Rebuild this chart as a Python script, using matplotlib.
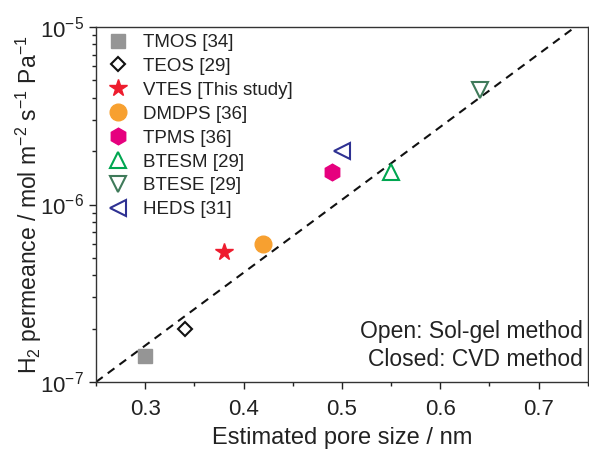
import matplotlib
matplotlib.use("Agg")
import matplotlib.pyplot as plt
from matplotlib.ticker import FixedLocator, FixedFormatter
import numpy as np

plt.rcParams['font.family'] = ['Liberation Sans', 'DejaVu Sans']
plt.rcParams['mathtext.fontset'] = 'custom'
plt.rcParams['mathtext.rm'] = 'Liberation Sans'
plt.rcParams['mathtext.it'] = 'Liberation Sans'

labels = ["TMOS [34]", "TEOS [29]", "VTES [This study]", "DMDPS [36]",
          "TPMS [36]", "BTESM [29]", "BTESE [29]", "HEDS [31]"]
pore_size = [0.30, 0.34, 0.38, 0.42, 0.49, 0.55, 0.64, 0.50]
permeance = [1.4e-7, 2.0e-7, 5.4e-7, 6.0e-7, 1.52e-6, 1.53e-6, 4.4e-6, 2.0e-6]
markers = ['s', 'D', '*', 'o', 'h', '^', 'v', '<']
colors = ['#959595', '#111111', '#ee1c2e', '#f7a030', '#e6007e', '#00a650', '#3f7a5a', '#2e3192']
filled = [True, False, True, True, True, False, False, False]
sizes = [10, 9, 13, 12, 12, 11, 11, 11]

x_ticks = [0.3, 0.4, 0.5, 0.6, 0.7]
x_ticklabels = ['0.3', '0.4', '0.5', '0.6', '0.7']
y_ticks = [1e-7, 1e-6, 1e-5]
y_ticklabels = ['10$^{-7}$', '10$^{-6}$', '10$^{-5}$']

trend_x = [0.25, 0.737]
trend_y = [1e-7, 1e-5]

fig = plt.figure(figsize=(5.89, 4.51), dpi=100)
ax = fig.add_axes([0.163, 0.153, 0.835, 0.787])

ax.plot(trend_x, trend_y, ls=(0, (4, 3)), color='#111111', lw=1.5, zorder=1)

for lab, x, y, m, c, f, s in zip(labels, pore_size, permeance, markers, colors, filled, sizes):
    ms = s if m != 'D' else s * 0.8
    if f:
        ax.plot([x], [y], marker=m, color=c, ms=ms, ls='none', mec=c, label=lab, zorder=3)
    else:
        ax.plot([x], [y], marker=m, ms=ms, ls='none', mfc='white', mec=c, mew=1.5, label=lab, zorder=3)

ax.set_yscale('log')
ax.set_xlim(0.25, 0.75)
ax.set_ylim(1e-7, 1e-5)
ax.set_xticks(x_ticks)
ax.set_xticks(np.arange(0.25, 0.751, 0.05), minor=True)
ax.set_xticklabels(x_ticklabels)
ax.yaxis.set_major_locator(FixedLocator(y_ticks))
ax.yaxis.set_major_formatter(FixedFormatter(y_ticklabels))

ax.tick_params(axis='both', which='both', direction='out', labelsize=16, colors='#222222')
ax.tick_params(which='major', length=5, width=1)
ax.tick_params(which='minor', length=3, width=1)
ax.tick_params(axis='x', which='major', pad=7)
ax.tick_params(axis='y', which='minor', labelleft=False)
for sp in ax.spines.values():
    sp.set_color('#333333')
    sp.set_linewidth(1)

ax.set_xlabel('Estimated pore size / nm', fontsize=17, color='#222222', labelpad=5)
ax.set_ylabel('H$_2$ permeance / mol m$^{-2}$ s$^{-1}$ Pa$^{-1}$', fontsize=16.5, color='#222222')
ax.yaxis.set_label_coords(-0.105, 0.5)

leg = ax.legend(loc='upper left', frameon=False, fontsize=13.5, handletextpad=0.65,
                labelspacing=0.36, borderaxespad=0.2, handlelength=1.4,
                bbox_to_anchor=(-0.005, 1.012))
for t in leg.get_texts():
    t.set_color('#222222')

ax.text(0.99, 0.03, 'Open: Sol-gel method\nClosed: CVD method', transform=ax.transAxes,
        ha='right', va='bottom', fontsize=16.5, color='#222222', linespacing=1.3)

fig.savefig('out.png', dpi=100)
